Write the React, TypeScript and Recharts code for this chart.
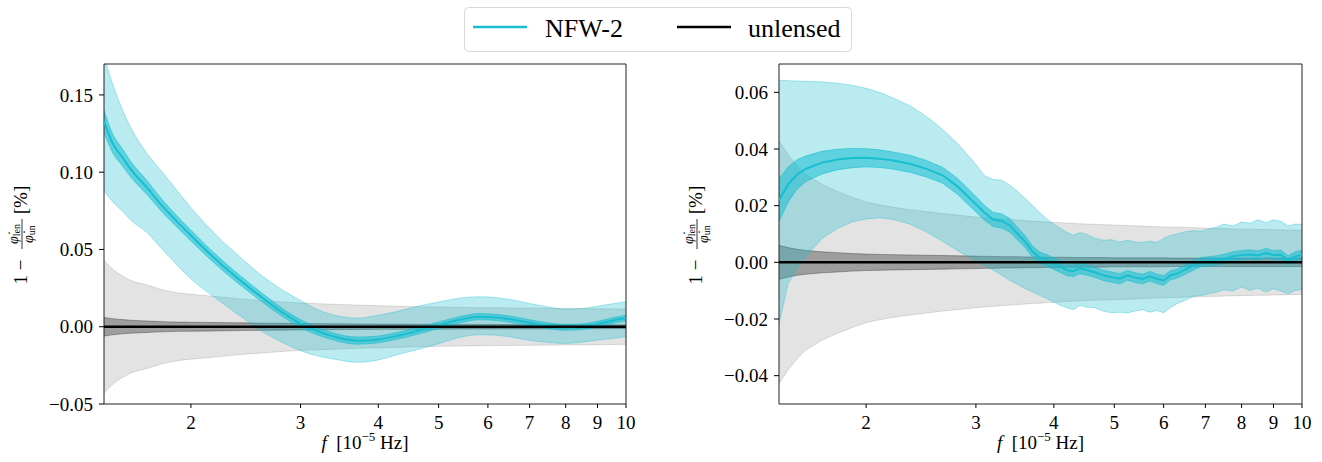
import React from 'react';
import { ComposedChart, Area, Line, XAxis, YAxis, ReferenceArea } from 'recharts';

const FONT = "'Liberation Serif', 'Times New Roman', 'DejaVu Serif', serif";
const CYAN = '#17becf';

const X_MIN = 1.45;
const X_MAX = 10;
const X_TICKS = [2, 3, 4, 5, 6, 7, 8, 9, 10];

// ---------- Left panel ----------
const LEFT_Y_DOMAIN = [-0.05, 0.17];
const LEFT_Y_TICKS = [-0.05, 0, 0.05, 0.1, 0.15];
const LEFT_F = [1.45, 1.5, 1.55, 1.6, 1.7, 1.8, 1.9, 2.0, 2.2, 2.4, 2.6, 2.8, 3.0, 3.2, 3.4, 3.7, 4.0, 4.3, 4.6, 5.0, 5.4, 5.8, 6.2, 6.6, 7.0, 7.5, 8.0, 8.5, 9.0, 9.5, 10];
const LEFT_MED = [0.133, 0.118, 0.110, 0.102, 0.090, 0.078, 0.068, 0.059, 0.043, 0.030, 0.019, 0.0095, 0.002, -0.003, -0.0065, -0.009, -0.0082, -0.0058, -0.003, 0.001, 0.0045, 0.0065, 0.006, 0.0045, 0.0026, 0.0006, -0.0004, 0.0, 0.0017, 0.0039, 0.0056];
const LEFT_INNER_W = [0.007, 0.006, 0.0055, 0.005, 0.0045, 0.004, 0.0037, 0.0035, 0.0032, 0.003, 0.0028, 0.0026, 0.0025, 0.0024, 0.0023, 0.0023, 0.0022, 0.0022, 0.0021, 0.0021, 0.002, 0.002, 0.002, 0.002, 0.0019, 0.0019, 0.0019, 0.0018, 0.0018, 0.0018, 0.0018];
const LEFT_UP = [0.175, 0.156, 0.141, 0.129, 0.112, 0.100, 0.088, 0.077, 0.059, 0.045, 0.033, 0.024, 0.017, 0.011, 0.0075, 0.0056, 0.0075, 0.010, 0.013, 0.016, 0.0185, 0.0194, 0.0188, 0.0172, 0.015, 0.0128, 0.0114, 0.0118, 0.0133, 0.0148, 0.0163];
const LEFT_LO = [0.088, 0.0806, 0.075, 0.069, 0.061, 0.050, 0.040, 0.031, 0.018, 0.007, -0.003, -0.010, -0.0155, -0.019, -0.021, -0.023, -0.0215, -0.018, -0.015, -0.011, -0.007, -0.0052, -0.0055, -0.007, -0.0088, -0.0102, -0.0108, -0.010, -0.0087, -0.0076, -0.0065];
const LEFT_GRAY_OUT = [0.043, 0.037, 0.033, 0.030, 0.027, 0.024, 0.022, 0.021, 0.0195, 0.018, 0.017, 0.016, 0.0153, 0.0149, 0.0145, 0.014, 0.0136, 0.0133, 0.013, 0.0127, 0.0125, 0.0123, 0.0122, 0.0121, 0.012, 0.0119, 0.0118, 0.0117, 0.0116, 0.0115, 0.0114];
const LEFT_GRAY_IN = [0.006, 0.0052, 0.0046, 0.0042, 0.0037, 0.0033, 0.003, 0.0029, 0.0027, 0.0025, 0.0023, 0.0022, 0.0021, 0.002, 0.0019, 0.0018, 0.0017, 0.0017, 0.0016, 0.0016, 0.0015, 0.0015, 0.0015, 0.0014, 0.0014, 0.0014, 0.0013, 0.0013, 0.0013, 0.0012, 0.0012];

// ---------- Right panel ----------
const RIGHT_Y_DOMAIN = [-0.05, 0.07];
const RIGHT_Y_TICKS = [-0.04, -0.02, 0, 0.02, 0.04, 0.06];
const RIGHT_F = [1.45, 1.5, 1.55, 1.6, 1.7, 1.8, 1.9, 2.0, 2.1, 2.2, 2.35, 2.5, 2.65, 2.8, 3.0, 3.1, 3.2, 3.3, 3.4, 3.5, 3.6, 3.7, 3.8, 3.9, 4.0, 4.1, 4.2, 4.3, 4.4, 4.5, 4.65, 4.8, 4.95, 5.1, 5.25, 5.4, 5.55, 5.7, 5.85, 6.0, 6.15, 6.3, 6.5, 6.7, 6.9, 7.1, 7.3, 7.5, 7.75, 8.0, 8.25, 8.5, 8.75, 9.0, 9.25, 9.5, 9.75, 10];
const RIGHT_MED = [0.0219, 0.0275, 0.031, 0.033, 0.0352, 0.0363, 0.0368, 0.0369, 0.0366, 0.036, 0.0348, 0.033, 0.0308, 0.0269, 0.0205, 0.0174, 0.0151, 0.0146, 0.0131, 0.0101, 0.0072, 0.0037, 0.0016, 0.0007, -0.0005, -0.0016, -0.0028, -0.0031, -0.0021, -0.0026, -0.0035, -0.0046, -0.0052, -0.0058, -0.0046, -0.0054, -0.0059, -0.0049, -0.0058, -0.0064, -0.0046, -0.004, -0.0026, -0.0011, 0.0001, 0.0004, 0.0007, 0.0012, 0.0021, 0.0026, 0.0028, 0.0024, 0.0033, 0.0025, 0.0027, 0.0007, 0.0021, 0.0026];
const RIGHT_INNER_W = [0.0075, 0.0062, 0.0052, 0.0045, 0.004, 0.0036, 0.0034, 0.0032, 0.0031, 0.003, 0.003, 0.0029, 0.0028, 0.0028, 0.0027, 0.0026, 0.0025, 0.0025, 0.0024, 0.0022, 0.0021, 0.002, 0.002, 0.002, 0.002, 0.002, 0.0019, 0.0019, 0.0019, 0.0018, 0.0018, 0.0018, 0.0018, 0.0018, 0.0017, 0.0017, 0.0017, 0.0017, 0.0017, 0.0017, 0.0016, 0.0016, 0.0016, 0.0016, 0.0016, 0.0016, 0.0016, 0.0016, 0.0016, 0.0016, 0.0016, 0.0016, 0.0016, 0.0016, 0.0016, 0.0016, 0.0016, 0.0016];
const RIGHT_UP = [0.0643, 0.0641, 0.064, 0.0639, 0.0637, 0.0632, 0.0625, 0.0614, 0.06, 0.0582, 0.0553, 0.0515, 0.047, 0.042, 0.0345, 0.0305, 0.0292, 0.029, 0.0272, 0.025, 0.0225, 0.02, 0.0175, 0.0152, 0.0135, 0.012, 0.0105, 0.0096, 0.0105, 0.01, 0.0085, 0.0078, 0.008, 0.0072, 0.0078, 0.0072, 0.007, 0.0075, 0.007, 0.0085, 0.0095, 0.01, 0.0108, 0.0112, 0.011, 0.0118, 0.0125, 0.0135, 0.0128, 0.0142, 0.0138, 0.015, 0.014, 0.015, 0.0145, 0.0128, 0.0135, 0.0134];
const RIGHT_LO = [-0.0217, -0.0075, -0.0022, 0.0019, 0.0084, 0.0119, 0.0143, 0.0153, 0.0157, 0.0152, 0.0135, 0.0107, 0.0074, 0.0042, 0.0005, -0.0011, -0.0028, -0.0046, -0.0064, -0.0078, -0.0093, -0.0105, -0.0117, -0.0128, -0.014, -0.0152, -0.016, -0.0167, -0.0152, -0.0158, -0.016, -0.0172, -0.0178, -0.0176, -0.0179, -0.0172, -0.0167, -0.0176, -0.017, -0.0178, -0.016, -0.0146, -0.0134, -0.012, -0.0117, -0.0111, -0.0105, -0.0097, -0.0101, -0.0087, -0.0099, -0.0091, -0.0105, -0.0093, -0.0101, -0.0111, -0.0099, -0.0097];
const RIGHT_GRAY_OUT = [0.0428, 0.038, 0.034, 0.031, 0.0275, 0.025, 0.023, 0.0213, 0.0203, 0.0195, 0.0186, 0.0179, 0.0172, 0.0167, 0.016, 0.0158, 0.0155, 0.0153, 0.0151, 0.0149, 0.0147, 0.0145, 0.0144, 0.0142, 0.0141, 0.014, 0.0138, 0.0137, 0.0136, 0.0135, 0.0134, 0.0133, 0.0132, 0.0131, 0.013, 0.0129, 0.0128, 0.0127, 0.0126, 0.0125, 0.0124, 0.0124, 0.0123, 0.0122, 0.0121, 0.012, 0.012, 0.0119, 0.0118, 0.0117, 0.0117, 0.0116, 0.0116, 0.0115, 0.0115, 0.0114, 0.0114, 0.0113];
const RIGHT_GRAY_IN = [0.006, 0.0052, 0.0046, 0.0042, 0.0037, 0.0034, 0.0031, 0.0029, 0.0028, 0.0027, 0.0026, 0.0025, 0.0024, 0.0023, 0.0022, 0.0021, 0.0021, 0.002, 0.002, 0.002, 0.0019, 0.0019, 0.0019, 0.0018, 0.0018, 0.0018, 0.0018, 0.0017, 0.0017, 0.0017, 0.0017, 0.0017, 0.0016, 0.0016, 0.0016, 0.0016, 0.0016, 0.0016, 0.0016, 0.0016, 0.0015, 0.0015, 0.0015, 0.0015, 0.0015, 0.0015, 0.0015, 0.0015, 0.0015, 0.0015, 0.0015, 0.0015, 0.0015, 0.0015, 0.0015, 0.0015, 0.0015, 0.0015];

const UNLENSED_LEVEL = 0;

const LEGEND_LABELS = ['NFW-2', 'unlensed'];
const X_LABEL_VAR = 'f';
const X_LABEL_UNIT = ['[10', '\u22125', '\u00a0Hz]'];

function buildData(fs: number[], med: number[], w: number[], up: number[], lo: number[], go: number[], gi: number[]) {
  return fs.map((f, i) => ({
    f,
    med: med[i],
    inner: [med[i] - w[i], med[i] + w[i]],
    outer: [lo[i], up[i]],
    gOut: [UNLENSED_LEVEL - go[i], UNLENSED_LEVEL + go[i]],
    gIn: [UNLENSED_LEVEL - gi[i], UNLENSED_LEVEL + gi[i]],
    zero: UNLENSED_LEVEL,
  }));
}

const leftData = buildData(LEFT_F, LEFT_MED, LEFT_INNER_W, LEFT_UP, LEFT_LO, LEFT_GRAY_OUT, LEFT_GRAY_IN);
const rightData = buildData(RIGHT_F, RIGHT_MED, RIGHT_INNER_W, RIGHT_UP, RIGHT_LO, RIGHT_GRAY_OUT, RIGHT_GRAY_IN);

const fmtY = (v: number) => {
  const s = Math.abs(v).toFixed(2);
  return v < -1e-9 ? '\u2212' + s : s;
};

const textStyle = { fontFamily: FONT };

function XLabel(props: any) {
  const vb = props.viewBox || { x: 0, y: 0, width: 0, height: 0 };
  const cx = vb.x + vb.width / 2;
  const y = vb.y + 45;
  return (
    <text x={cx} y={y} textAnchor="middle" fontSize={19} style={textStyle} fill="#000">
      <tspan fontStyle="italic">{X_LABEL_VAR}</tspan>
      <tspan>{'\u2002' + X_LABEL_UNIT[0]}</tspan>
      <tspan dy={-8} fontSize={13}>{X_LABEL_UNIT[1]}</tspan>
      <tspan dy={8}>{X_LABEL_UNIT[2]}</tspan>
    </text>
  );
}

function YLabel(props: any) {
  const vb = props.viewBox || { x: 0, y: 0, width: 0, height: 0 };
  const cx = vb.x + vb.width - 82;
  const cy = vb.y + vb.height / 2;
  return (
    <g transform={`translate(${cx},${cy}) rotate(-90)`} style={textStyle} fill="#000">
      <text x={-38} y={5} textAnchor="middle" fontSize={19} style={textStyle}>1 {'\u2212'}</text>
      <text x={0} y={-4} textAnchor="middle" fontSize={14} style={textStyle}>
        <tspan fontStyle="italic">{'\u03c6\u0307'}</tspan>
        <tspan fontSize={10} dy={2}>len</tspan>
      </text>
      <line x1={-15} x2={15} y1={0} y2={0} stroke="#000" strokeWidth={0.8} />
      <text x={0} y={11} textAnchor="middle" fontSize={14} style={textStyle}>
        <tspan fontStyle="italic">{'\u03c6\u0307'}</tspan>
        <tspan fontSize={10} dy={2}>un</tspan>
      </text>
      <text x={34} y={5} textAnchor="middle" fontSize={19} style={textStyle}>[%]</text>
    </g>
  );
}

type PanelProps = {
  data: any[];
  yDomain: number[];
  yTicks: number[];
  width: number;
  yAxisWidth: number;
  marginRight: number;
  left: number;
  curve: any;
};

function Panel({ data, yDomain, yTicks, width, yAxisWidth, marginRight, left, curve }: PanelProps) {
  const tickStyle = { fill: '#000', fontSize: 19, fontFamily: FONT, style: textStyle };
  return (
    <div style={{ position: 'absolute', left, top: 0, fontFamily: FONT }}>
      <ComposedChart width={width} height={462} data={data} margin={{ top: 64, right: marginRight, bottom: 0, left: 0 }} style={textStyle}>
        <XAxis
          dataKey="f"
          type="number"
          scale="log"
          domain={[X_MIN, X_MAX]}
          allowDataOverflow
          ticks={X_TICKS}
          interval={0}
          tickFormatter={(v: number) => String(v)}
          axisLine={false}
          tickLine={{ stroke: '#000' }}
          tickSize={4}
          tickMargin={8}
          height={58}
          tick={tickStyle}
          label={(p: any) => <XLabel {...p} />}
        />
        <YAxis
          type="number"
          domain={yDomain}
          allowDataOverflow
          ticks={yTicks}
          interval={0}
          tickFormatter={fmtY}
          axisLine={false}
          tickLine={{ stroke: '#000' }}
          tickSize={5}
          tickMargin={6}
          width={yAxisWidth}
          tick={tickStyle}
          label={(p: any) => <YLabel {...p} />}
        />
        <Area dataKey="gOut" type={curve} fill="#808080" fillOpacity={0.22} stroke="#808080" strokeOpacity={0.25} strokeWidth={1} isAnimationActive={false} dot={false} activeDot={false} />
        <Area dataKey="gIn" type={curve} fill="#000" fillOpacity={0.3} stroke="#000" strokeOpacity={0.3} strokeWidth={1} isAnimationActive={false} dot={false} activeDot={false} />
        <Area dataKey="outer" type={curve} fill={CYAN} fillOpacity={0.3} stroke={CYAN} strokeOpacity={0.35} strokeWidth={1} isAnimationActive={false} dot={false} activeDot={false} />
        <Area dataKey="inner" type={curve} fill={CYAN} fillOpacity={0.55} stroke={CYAN} strokeOpacity={0.6} strokeWidth={1} isAnimationActive={false} dot={false} activeDot={false} />
        <Line dataKey="med" type={curve} stroke={CYAN} strokeWidth={2} dot={false} activeDot={false} isAnimationActive={false} />
        <Line dataKey="zero" type="linear" stroke="#000" strokeWidth={2.5} dot={false} activeDot={false} isAnimationActive={false} />
        <ReferenceArea x1={X_MIN} x2={X_MAX} y1={yDomain[0]} y2={yDomain[1]} fill="none" stroke="#222" strokeWidth={1} ifOverflow="visible" />
      </ComposedChart>
    </div>
  );
}

function Legend() {
  return (
    <svg width={1322} height={60} style={{ position: 'absolute', left: 0, top: 0, fontFamily: FONT }}>
      <rect x={464.5} y={7.5} width={387} height={44} rx={4} ry={4} fill="#fff" stroke="#d8d8d8" strokeWidth={1} />
      <line x1={473} x2={527} y1={27} y2={27} stroke={CYAN} strokeWidth={2.5} />
      <text x={545} y={37} fontSize={26} style={textStyle} fill="#000">{LEGEND_LABELS[0]}</text>
      <line x1={677} x2={731} y1={27} y2={27} stroke="#000" strokeWidth={2.5} />
      <text x={748} y={37} fontSize={26} style={textStyle} fill="#000">{LEGEND_LABELS[1]}</text>
    </svg>
  );
}

export default function App() {
  return (
    <div style={{ position: 'absolute', left: 0, top: 0, width: 1322, height: 462, background: '#fff', overflow: 'hidden', fontFamily: FONT }}>
      <Panel data={leftData} yDomain={LEFT_Y_DOMAIN} yTicks={LEFT_Y_TICKS} width={660} yAxisWidth={104} marginRight={34} left={0} curve="monotone" />
      <Panel data={rightData} yDomain={RIGHT_Y_DOMAIN} yTicks={RIGHT_Y_TICKS} width={662} yAxisWidth={119} marginRight={20} left={660} curve="linear" />
      <Legend />
    </div>
  );
}
